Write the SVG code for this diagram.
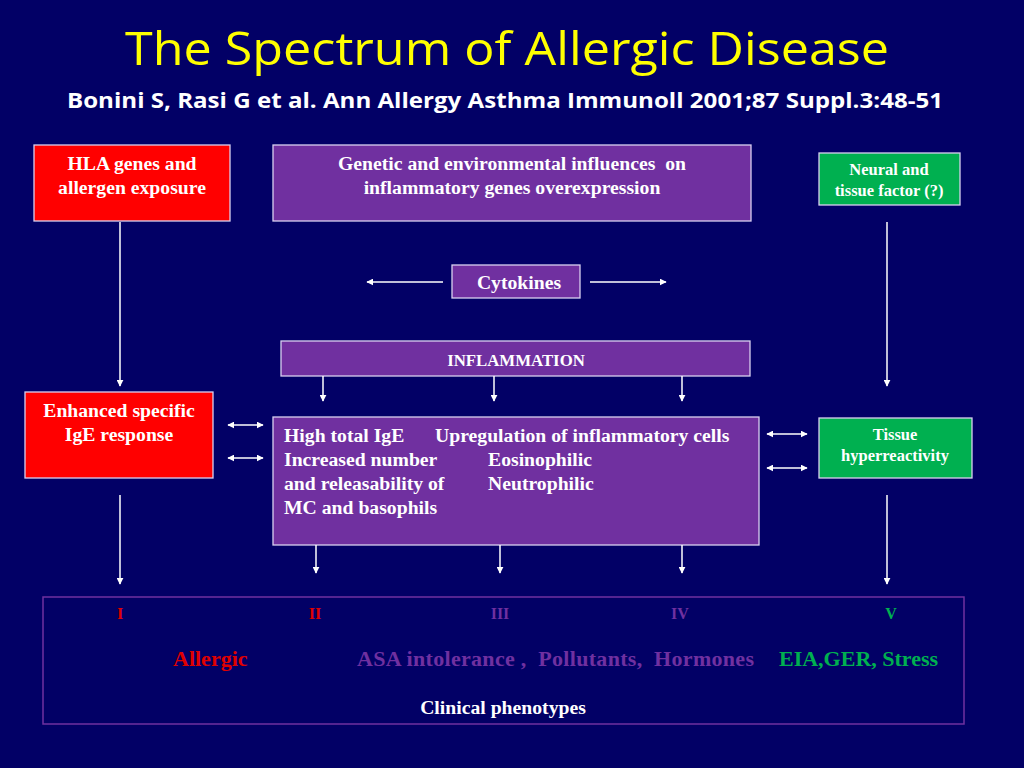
<svg xmlns="http://www.w3.org/2000/svg" width="1024" height="768" viewBox="0 0 1024 768">
<defs>
<marker id="ah" viewBox="0 0 10 10" refX="9" refY="5" markerWidth="7" markerHeight="7" markerUnits="userSpaceOnUse" orient="auto-start-reverse">
<path d="M0,0 L10,5 L0,10 z" fill="#ffffff"/>
</marker>
<style>
.bg{fill:#020066}
.box{stroke:#d9d0f0;stroke-width:1.3}
.red{fill:#ff0000}
.pur{fill:#7030a0}
.grn{fill:#00b050}
.t{font-family:"Liberation Serif","Times New Roman",serif;font-weight:bold;fill:#ffffff}
.c{text-anchor:middle}
.con line{stroke:#ffffff;stroke-width:1.5}
.title{font-family:"Open Sans","Noto Sans",sans-serif;fill:#ffff00}
.sub{font-family:"Open Sans","Noto Sans",sans-serif;font-weight:bold;fill:#ffffff}
</style>
</defs>
<rect class="bg" x="0" y="0" width="1024" height="768"/>
<g id="title">
<text class="title c" x="507" y="65" font-size="46" textLength="764" lengthAdjust="spacingAndGlyphs">The Spectrum of  Allergic Disease</text>
<text class="sub c" x="505" y="108" font-size="21" textLength="876" lengthAdjust="spacingAndGlyphs">Bonini S, Rasi G et al. Ann Allergy Asthma Immunoll 2001;87 Suppl.3:48-51</text>
</g>
<g id="hla">
<rect class="box red" x="34" y="145" width="196" height="76"/>
<text class="t c" x="132" y="170" font-size="19.7">HLA genes and</text>
<text class="t c" x="132" y="194" font-size="19.7">allergen exposure</text>
</g>
<g id="genetic">
<rect class="box pur" x="273" y="145" width="478" height="76"/>
<text class="t c" x="512" y="170" font-size="19.7" xml:space="preserve">Genetic and environmental influences  on</text>
<text class="t c" x="512" y="194" font-size="19.7">inflammatory genes overexpression</text>
</g>
<g id="neural">
<rect class="box grn" x="819" y="153" width="141" height="52"/>
<text class="t c" x="889" y="175" font-size="16.5">Neural and</text>
<text class="t c" x="889" y="196" font-size="16.5">tissue factor (?)</text>
</g>
<g id="cytokines">
<rect class="box pur" x="452" y="265" width="128" height="33"/>
<text class="t c" x="519" y="289" font-size="19.7">Cytokines</text>
</g>
<g id="inflammation">
<rect class="box pur" x="281" y="341" width="469" height="35"/>
<text class="t c" x="516" y="366" font-size="16.8">INFLAMMATION</text>
</g>
<g id="enhanced">
<rect class="box red" x="25" y="392" width="188" height="86"/>
<text class="t c" x="119" y="417" font-size="19.7">Enhanced specific</text>
<text class="t c" x="119" y="441" font-size="19.7">IgE response</text>
</g>
<g id="central">
<rect class="box pur" x="273" y="417" width="486" height="128"/>
<text class="t" x="284" y="442" font-size="19.7">High total IgE</text>
<text class="t" x="435" y="442" font-size="19.7">Upregulation of inflammatory cells</text>
<text class="t" x="284" y="466" font-size="19.7">Increased number</text>
<text class="t" x="488" y="466" font-size="19.7">Eosinophilic</text>
<text class="t" x="284" y="490" font-size="19.7">and releasability of</text>
<text class="t" x="488" y="490" font-size="19.7">Neutrophilic</text>
<text class="t" x="284" y="514" font-size="19.7">MC and basophils</text>
</g>
<g id="tissue">
<rect class="box grn" x="819" y="418" width="153" height="60"/>
<text class="t c" x="895" y="440" font-size="16.5">Tissue</text>
<text class="t c" x="895" y="461" font-size="16.5">hyperreactivity</text>
</g>
<g id="phenotypes">
<rect x="43" y="597" width="921" height="127" fill="none" stroke="#7030a0" stroke-width="1.5"/>
<text class="t c" x="120" y="619" font-size="16" style="fill:#e00000">I</text>
<text class="t c" x="315" y="619" font-size="16" style="fill:#e00000">II</text>
<text class="t c" x="500" y="619" font-size="16" style="fill:#7030a0">III</text>
<text class="t c" x="680" y="619" font-size="16" style="fill:#7030a0">IV</text>
<text class="t c" x="891" y="619" font-size="16" style="fill:#00b050">V</text>
<text class="t" x="173" y="666" font-size="22" style="fill:#e00000">Allergic</text>
<text class="t" x="357" y="666" font-size="22" style="fill:#7030a0" xml:space="preserve" textLength="397" lengthAdjust="spacing">ASA intolerance ,  Pollutants,  Hormones</text>
<text class="t" x="779" y="666" font-size="22" style="fill:#00b050">EIA,GER, Stress</text>
<text class="t c" x="503" y="714" font-size="19.7">Clinical phenotypes</text>
</g>
<g id="connectors" class="con">
<line x1="120" y1="222" x2="120" y2="386" marker-end="url(#ah)"/>
<line x1="887" y1="222" x2="887" y2="386" marker-end="url(#ah)"/>
<line x1="443" y1="282" x2="367" y2="282" marker-end="url(#ah)"/>
<line x1="590" y1="282" x2="666" y2="282" marker-end="url(#ah)"/>
<line x1="323" y1="376" x2="323" y2="401" marker-end="url(#ah)"/>
<line x1="494" y1="376" x2="494" y2="401" marker-end="url(#ah)"/>
<line x1="682" y1="376" x2="682" y2="401" marker-end="url(#ah)"/>
<line x1="228" y1="425" x2="263" y2="425" marker-start="url(#ah)" marker-end="url(#ah)"/>
<line x1="228" y1="458" x2="263" y2="458" marker-start="url(#ah)" marker-end="url(#ah)"/>
<line x1="767" y1="434" x2="807" y2="434" marker-start="url(#ah)" marker-end="url(#ah)"/>
<line x1="767" y1="468" x2="807" y2="468" marker-start="url(#ah)" marker-end="url(#ah)"/>
<line x1="120" y1="495" x2="120" y2="584" marker-end="url(#ah)"/>
<line x1="887" y1="495" x2="887" y2="584" marker-end="url(#ah)"/>
<line x1="316" y1="545" x2="316" y2="573" marker-end="url(#ah)"/>
<line x1="500" y1="545" x2="500" y2="573" marker-end="url(#ah)"/>
<line x1="682" y1="545" x2="682" y2="573" marker-end="url(#ah)"/>
</g>
</svg>
